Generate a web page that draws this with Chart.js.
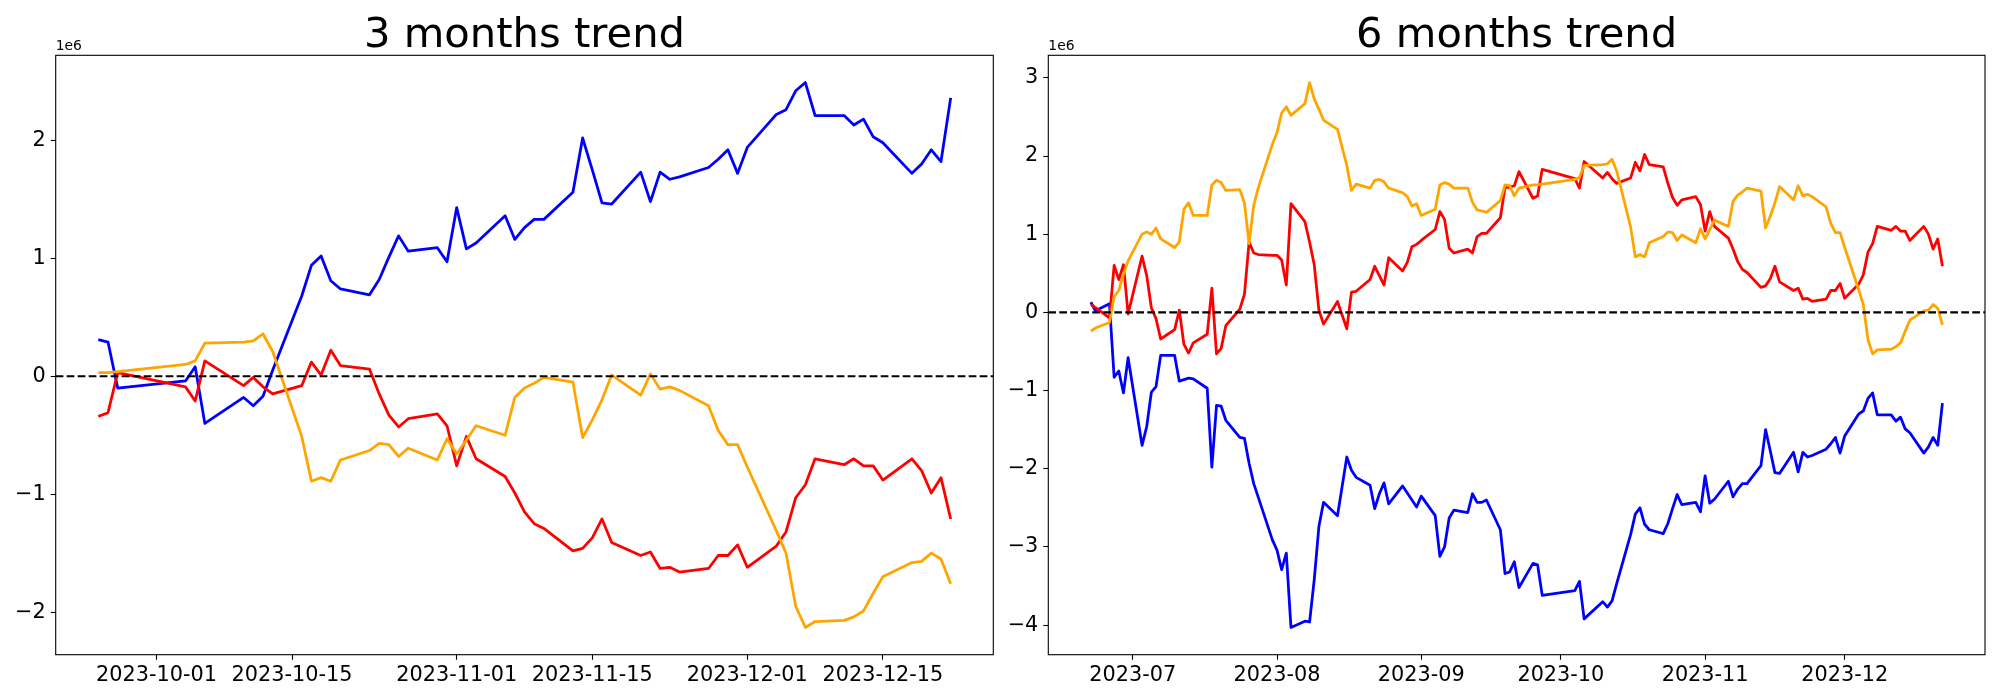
<!DOCTYPE html>
<html>
<head>
<meta charset="utf-8">
<script src="https://cdn.jsdelivr.net/npm/chart.js@4.4.1/dist/chart.umd.min.js"></script>
<style>
  html, body { margin: 0; padding: 0; background: #fff; }
  #wrap { position: relative; width: 2000px; height: 700px; }
  canvas { position: absolute; top: 0; }
</style>
</head>
<body>
<div id="wrap">
  <canvas id="chart3m" width="1000" height="700" style="left:0px"></canvas>
  <canvas id="chart6m" width="1000" height="700" style="left:1000px"></canvas>
</div>
<script>
// values are in units of 1e6 (matches the "1e6" offset label)

// ---- 3 months ----
const dates3m = [
  '2023-09-25','2023-09-26','2023-09-27','2023-10-04','2023-10-05','2023-10-06','2023-10-10','2023-10-11','2023-10-12','2023-10-13',
  '2023-10-16','2023-10-17','2023-10-18','2023-10-19','2023-10-20','2023-10-23','2023-10-24','2023-10-25','2023-10-26','2023-10-27',
  '2023-10-30','2023-10-31','2023-11-01','2023-11-02','2023-11-03','2023-11-06','2023-11-07','2023-11-08','2023-11-09','2023-11-10',
  '2023-11-13','2023-11-14','2023-11-15','2023-11-16','2023-11-17','2023-11-20','2023-11-21','2023-11-22','2023-11-23','2023-11-24',
  '2023-11-27','2023-11-28','2023-11-29','2023-11-30','2023-12-01','2023-12-04','2023-12-05','2023-12-06','2023-12-07','2023-12-08',
  '2023-12-11','2023-12-12','2023-12-13','2023-12-14','2023-12-15','2023-12-18','2023-12-19','2023-12-20','2023-12-21','2023-12-22'
];
const blue3m = [
  0.31, 0.29, -0.10, -0.04, 0.08, -0.40, -0.18, -0.25, -0.17, 0.05,
  0.68, 0.94, 1.02, 0.81, 0.74, 0.69, 0.82, 1.01, 1.19, 1.06,
  1.09, 0.97, 1.43, 1.08, 1.13, 1.36, 1.16, 1.26, 1.33, 1.33,
  1.56, 2.02, 1.75, 1.47, 1.46, 1.73, 1.48, 1.73, 1.67, 1.69,
  1.77, 1.84, 1.92, 1.72, 1.94, 2.22, 2.26, 2.42, 2.49, 2.21,
  2.21, 2.13, 2.18, 2.03, 1.98, 1.72, 1.80, 1.92, 1.82, 2.36
];
const red3m = [
  -0.34, -0.31, 0.03, -0.09, -0.21, 0.13, -0.08, -0.01, -0.09, -0.15,
  -0.08, 0.12, 0.01, 0.22, 0.09, 0.06, -0.15, -0.33, -0.43, -0.36,
  -0.32, -0.42, -0.76, -0.51, -0.70, -0.85, -0.99, -1.15, -1.25, -1.29,
  -1.48, -1.46, -1.37, -1.21, -1.41, -1.52, -1.49, -1.63, -1.62, -1.66,
  -1.63, -1.52, -1.52, -1.43, -1.62, -1.44, -1.32, -1.03, -0.92, -0.70,
  -0.75, -0.70, -0.76, -0.76, -0.88, -0.70, -0.80, -0.99, -0.86, -1.21
];
const orange3m = [
  0.03, 0.03, 0.04, 0.10, 0.13, 0.28, 0.29, 0.30, 0.36, 0.21,
  -0.51, -0.89, -0.86, -0.89, -0.71, -0.63, -0.57, -0.58, -0.68, -0.61,
  -0.71, -0.53, -0.66, -0.54, -0.42, -0.50, -0.18, -0.10, -0.06, -0.01,
  -0.05, -0.52, -0.37, -0.20, 0.01, -0.16, 0.02, -0.11, -0.09, -0.12,
  -0.25, -0.46, -0.58, -0.58, -0.77, -1.31, -1.50, -1.95, -2.13, -2.08,
  -2.07, -2.04, -1.99, -1.84, -1.70, -1.58, -1.57, -1.50, -1.55, -1.76
];
const ticks3m = ['2023-10-01', '2023-10-15', '2023-11-01', '2023-11-15', '2023-12-01', '2023-12-15'];

// ---- 6 months ----
const datesJunSep = [
  '2023-06-22','2023-06-23','2023-06-26','2023-06-27','2023-06-28','2023-06-29','2023-06-30',
  '2023-07-03','2023-07-04','2023-07-05','2023-07-06','2023-07-07',
  '2023-07-10','2023-07-11','2023-07-12','2023-07-13','2023-07-14',
  '2023-07-17','2023-07-18','2023-07-19','2023-07-20','2023-07-21',
  '2023-07-24','2023-07-25','2023-07-26','2023-07-27','2023-07-28',
  '2023-07-31','2023-08-01','2023-08-02','2023-08-03','2023-08-04',
  '2023-08-07','2023-08-08','2023-08-09','2023-08-10','2023-08-11',
  '2023-08-14','2023-08-16','2023-08-17','2023-08-18',
  '2023-08-21','2023-08-22','2023-08-23','2023-08-24','2023-08-25',
  '2023-08-28','2023-08-29','2023-08-30','2023-08-31','2023-09-01',
  '2023-09-04','2023-09-05','2023-09-06','2023-09-07','2023-09-08',
  '2023-09-11','2023-09-12','2023-09-13','2023-09-14','2023-09-15',
  '2023-09-18','2023-09-19','2023-09-20','2023-09-21','2023-09-22'
];
const dates6m = datesJunSep.concat(dates3m);
const blue6m = [
  0.13, 0.02, 0.11, -0.83, -0.75, -1.03, -0.58,
  -1.70, -1.46, -1.02, -0.95, -0.55,
  -0.55, -0.88, -0.86, -0.84, -0.85,
  -0.97, -1.98, -1.19, -1.20, -1.38,
  -1.60, -1.61, -1.93, -2.19, -2.37,
  -2.91, -3.04, -3.29, -3.08, -4.03,
  -3.95, -3.96, -3.42, -2.74, -2.43,
  -2.60, -1.85, -2.02, -2.11,
  -2.21, -2.51, -2.32, -2.18, -2.45,
  -2.22, -2.31, -2.40, -2.49, -2.35,
  -2.60, -3.12, -3.00, -2.63, -2.53,
  -2.56, -2.32, -2.43, -2.43, -2.40,
  -2.78, -3.34, -3.32, -3.19, -3.52,
  -3.21, -3.23, -3.62, -3.56, -3.44, -3.92, -3.70, -3.77, -3.69, -3.47,
  -2.84, -2.58, -2.50, -2.71, -2.78, -2.83, -2.70, -2.51, -2.33, -2.46,
  -2.43, -2.55, -2.09, -2.44, -2.39, -2.16, -2.36, -2.26, -2.19, -2.19,
  -1.96, -1.50, -1.77, -2.05, -2.06, -1.79, -2.04, -1.79, -1.85, -1.83,
  -1.75, -1.68, -1.60, -1.80, -1.58, -1.30, -1.26, -1.10, -1.03, -1.31,
  -1.31, -1.39, -1.34, -1.49, -1.54, -1.80, -1.72, -1.60, -1.70, -1.16
];
const red6m = [
  0.10, 0.06, -0.07, 0.60, 0.42, 0.61, -0.02,
  0.72, 0.47, 0.06, -0.08, -0.34,
  -0.22, 0.03, -0.41, -0.52, -0.39,
  -0.28, 0.31, -0.53, -0.46, -0.17,
  0.04, 0.23, 0.90, 0.76, 0.74,
  0.73, 0.73, 0.67, 0.35, 1.39,
  1.16, 0.90, 0.61, 0.03, -0.15,
  0.14, -0.21, 0.26, 0.27,
  0.42, 0.59, 0.47, 0.35, 0.70,
  0.53, 0.64, 0.84, 0.87, 0.92,
  1.06, 1.29, 1.19, 0.82, 0.76,
  0.81, 0.76, 0.97, 1.01, 1.01,
  1.21, 1.60, 1.60, 1.62, 1.80,
  1.46, 1.49, 1.83, 1.71, 1.59, 1.93, 1.72, 1.79, 1.71, 1.65,
  1.72, 1.92, 1.81, 2.02, 1.89, 1.86, 1.65, 1.47, 1.37, 1.44,
  1.48, 1.38, 1.04, 1.29, 1.10, 0.95, 0.81, 0.65, 0.55, 0.51,
  0.32, 0.34, 0.43, 0.59, 0.39, 0.28, 0.31, 0.17, 0.18, 0.14,
  0.17, 0.28, 0.28, 0.37, 0.18, 0.36, 0.48, 0.77, 0.88, 1.10,
  1.05, 1.10, 1.04, 1.04, 0.92, 1.10, 1.00, 0.81, 0.94, 0.59
];
const orange6m = [
  -0.24, -0.20, -0.13, 0.20, 0.28, 0.49, 0.66,
  1.00, 1.03, 1.00, 1.08, 0.94,
  0.83, 0.90, 1.32, 1.40, 1.24,
  1.24, 1.63, 1.69, 1.66, 1.56,
  1.57, 1.40, 0.88, 1.37, 1.60,
  2.15, 2.30, 2.55, 2.63, 2.52,
  2.67, 2.94, 2.73, 2.60, 2.46,
  2.34, 1.88, 1.56, 1.64,
  1.59, 1.69, 1.70, 1.67, 1.59,
  1.53, 1.48, 1.36, 1.39, 1.24,
  1.32, 1.63, 1.66, 1.64, 1.59,
  1.59, 1.41, 1.31, 1.30, 1.28,
  1.43, 1.63, 1.62, 1.49, 1.59,
  1.63, 1.63, 1.64, 1.70, 1.73, 1.88, 1.89, 1.90, 1.96, 1.81,
  1.09, 0.71, 0.74, 0.71, 0.89, 0.97, 1.03, 1.02, 0.92, 0.99,
  0.89, 1.07, 0.94, 1.06, 1.18, 1.10, 1.42, 1.50, 1.54, 1.59,
  1.55, 1.08, 1.23, 1.40, 1.61, 1.44, 1.62, 1.49, 1.51, 1.48,
  1.35, 1.14, 1.02, 1.02, 0.83, 0.29, 0.10, -0.35, -0.53, -0.48,
  -0.47, -0.44, -0.39, -0.24, -0.10, 0.02, 0.03, 0.10, 0.05, -0.16
];
const ticks6m = ['2023-07', '2023-08', '2023-09', '2023-10', '2023-11', '2023-12'];

Chart.defaults.font.family = '"DejaVu Sans"';
Chart.defaults.color = '#000';

// date string -> day number (linear x axis, no date adapter available)
function toDay(s) {
  const p = s.split('-').map(Number);
  return Date.UTC(p[0], p[1] - 1, p[2] || 1) / 864e5;
}

// frame, title and offset text, drawn like matplotlib
const panelDecor = {
  id: 'panelDecor',
  afterDatasetsDraw(chart, args, opts) {
    const ctx = chart.ctx, a = chart.chartArea;
    ctx.save();
    ctx.strokeStyle = '#000';
    ctx.lineWidth = 1.1;
    ctx.strokeRect(a.left, a.top, a.right - a.left, a.bottom - a.top);
    ctx.fillStyle = '#000';
    ctx.textBaseline = 'alphabetic';
    ctx.textAlign = 'center';
    ctx.font = '41.7px "DejaVu Sans"';
    ctx.fillText(opts.title, (a.left + a.right) / 2, a.top - 8.3);
    ctx.textAlign = 'left';
    ctx.font = '13.9px "DejaVu Sans"';
    ctx.fillText('1e6', a.left, a.top - 5);
    ctx.restore();
  }
};

function makePanel(id, title, dates, blue, red, orange, tickLabels, yWidth, padRight) {
  const xs = dates.map(toDay);
  const pts = vals => xs.map((x, i) => ({ x: x, y: vals[i] }));
  const all = blue.concat(red, orange);
  const lo = Math.min(...all), hi = Math.max(...all);
  const ym = (hi - lo) * 0.05;
  const xm = (xs[xs.length - 1] - xs[0]) * 0.05;
  const xmin = xs[0] - xm, xmax = xs[xs.length - 1] + xm;
  const tickDays = tickLabels.map(toDay);

  const line = (data, color, order) => ({
    data: data, borderColor: color, borderWidth: 2.78, pointRadius: 0,
    tension: 0, order: order, borderJoinStyle: 'round'
  });

  return new Chart(document.getElementById(id), {
    type: 'line',
    data: {
      datasets: [
        line(pts(blue), '#0000ff', 3),
        line(pts(red), '#ff0000', 2),
        line(pts(orange), '#ffa500', 1),
        {
          data: [{ x: xmin, y: 0 }, { x: xmax, y: 0 }],
          borderColor: '#000', borderWidth: 2.08, borderDash: [7.7, 3.3],
          pointRadius: 0, order: 0
        }
      ]
    },
    options: {
      responsive: false,
      animation: false,
      layout: { padding: { top: 55.3, right: padRight, left: 0, bottom: 0 } },
      plugins: {
        legend: { display: false },
        tooltip: { enabled: false },
        panelDecor: { title: title }
      },
      scales: {
        x: {
          type: 'linear', min: xmin, max: xmax,
          afterBuildTicks: s => { s.ticks = tickDays.map(v => ({ value: v })); },
          afterFit: s => { s.height = 45.3; },
          ticks: {
            callback: (v, i) => tickLabels[i],
            font: { size: 20.8 }, color: '#000',
            maxRotation: 0, autoSkip: false, padding: 3
          },
          grid: { drawOnChartArea: false, tickLength: 5, tickColor: '#000', tickWidth: 1.1 },
          border: { display: false }
        },
        y: {
          type: 'linear', min: lo - ym, max: hi + ym,
          afterBuildTicks: s => {
            const t = [];
            for (let v = Math.ceil(s.min); v <= Math.floor(s.max); v++) t.push({ value: v });
            s.ticks = t;
          },
          afterFit: s => { s.width = yWidth; },
          ticks: {
            callback: v => (v < 0 ? '\u2212' + Math.abs(v) : String(v)),
            font: { size: 20.8 }, color: '#000', padding: 5
          },
          grid: { drawOnChartArea: false, tickLength: 5, tickColor: '#000', tickWidth: 1.1 },
          border: { display: false }
        }
      }
    },
    plugins: [panelDecor]
  });
}

makePanel('chart3m', '3 months trend', dates3m, blue3m, red3m, orange3m, ticks3m, 55.7, 6.7);
makePanel('chart6m', '6 months trend', dates6m, blue6m, red6m, orange6m, ticks6m, 48.3, 15);
</script>
</body>
</html>
